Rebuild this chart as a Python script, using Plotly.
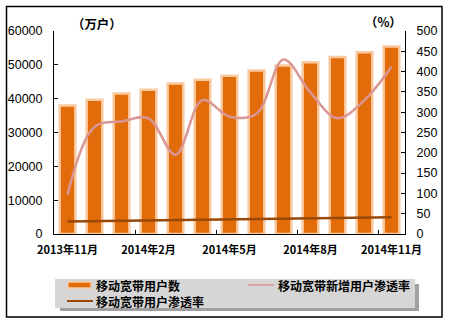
import plotly.graph_objects as go

months = ["2013年11月", "2013年12月", "2014年1月", "2014年2月", "2014年3月", "2014年4月",
          "2014年5月", "2014年6月", "2014年7月", "2014年8月", "2014年9月", "2014年10月", "2014年11月"]
users = [38000, 39700, 41500, 42600, 44500, 45600, 46800, 48300, 49800, 50800, 52300, 53700, 55400]
new_rate = [97, 264, 277, 285, 195, 330, 289, 296, 430, 348, 285, 330, 412]
pen_rate = [30.5, 31.4, 32.3, 33.2, 34.0, 34.8, 35.6, 36.6, 37.5, 38.4, 39.3, 40.2, 41.2]
tick_labels = ["2013年11月", "2014年2月", "2014年5月", "2014年8月", "2014年11月"]
tick_vals = [months[0], months[3], months[6], months[9], months[12]]
series_names = ["移动宽带用户数", "移动宽带新增用户渗透率", "移动宽带用户渗透率"]

CJK = "Noto Sans CJK SC"
NUM = "Liberation Sans"
BAR_FILL = "#E36C0A"
BAR_EDGE = "#F9C9A0"
PINK = "#DA9694"
BROWN = "#984807"

# plot area in pixels: x 54..405, y 31..234
PL, PW, PB, PH = 54, 351, 234, 203
def px(x):
    return (x - PL) / PW
def py(y):
    return (PB - y) / PH

fig = go.Figure()
fig.add_trace(go.Bar(
    x=months, y=users, name=series_names[0],
    marker=dict(color=BAR_FILL, line=dict(color=BAR_EDGE, width=2.5)),
    width=0.58, yaxis="y",
))
fig.add_trace(go.Scatter(
    x=months, y=new_rate, name=series_names[1], mode="lines",
    line=dict(color=PINK, width=2.5, shape="spline", smoothing=1.0), yaxis="y2",
))
fig.add_trace(go.Scatter(
    x=months, y=pen_rate, name=series_names[2], mode="lines",
    line=dict(color=BROWN, width=2.5), yaxis="y2",
))

bold12 = dict(family=CJK, size=12.4, color="black", weight="bold")
leg12 = dict(family=CJK, size=12, color="black", weight="bold")

fig.update_layout(
    width=449, height=324,
    margin=dict(l=54, r=44, t=31, b=90, autoexpand=False),
    paper_bgcolor="white", plot_bgcolor="white",
    showlegend=False,
    xaxis=dict(
        type="category", categoryorder="array", categoryarray=months,
        tickmode="array", tickvals=tick_vals, ticktext=tick_labels, tickangle=0,
        tickson="boundaries", ticks="inside", ticklen=4, tickcolor="black",
        showline=True, linecolor="black", linewidth=1, showgrid=False,
        automargin=False, ticklabelstandoff=6,
        tickfont=dict(family=CJK, size=11, color="black", weight="bold"),
    ),
    yaxis=dict(
        range=[0, 60000], dtick=10000, tickformat="d",
        ticks="inside", ticklen=4, tickcolor="black", automargin=False,
        showline=True, linecolor="black", linewidth=1, showgrid=False, zeroline=False,
        ticklabelstandoff=8,
        tickfont=dict(family=NUM, size=12.5, color="black"),
    ),
    yaxis2=dict(
        range=[0, 500], dtick=50, overlaying="y", side="right", automargin=False,
        ticks="inside", ticklen=4, tickcolor="black",
        showline=True, linecolor="black", linewidth=1, showgrid=False, zeroline=False,
        ticklabelstandoff=8,
        tickfont=dict(family=NUM, size=12.5, color="black"),
    ),
    annotations=[
        dict(text="（万户）", xref="paper", yref="paper", x=px(70), y=py(24),
             xanchor="left", yanchor="middle", showarrow=False, font=bold12),
        dict(text="（%）", xref="paper", yref="paper", x=px(404), y=py(22),
             xanchor="right", yanchor="middle", showarrow=False, font=bold12),
        dict(text=series_names[0], xref="paper", yref="paper", x=px(94), y=py(285),
             xanchor="left", yanchor="middle", showarrow=False, font=leg12),
        dict(text=series_names[1], xref="paper", yref="paper", x=px(276), y=py(285),
             xanchor="left", yanchor="middle", showarrow=False, font=leg12),
        dict(text=series_names[2], xref="paper", yref="paper", x=px(94), y=py(301),
             xanchor="left", yanchor="middle", showarrow=False, font=leg12),
    ],
    shapes=[
        # outer frame
        dict(type="rect", xref="paper", yref="paper",
             x0=px(6.5), x1=px(442), y0=py(317), y1=py(6.5),
             line=dict(color="black", width=1.5), fillcolor="rgba(0,0,0,0)", layer="below"),
        # legend shadow
        dict(type="rect", xref="paper", yref="paper",
             x0=px(60), x1=px(419), y0=py(311), y1=py(284),
             line=dict(width=0), fillcolor="#A0A0A0", layer="below"),
        # legend box
        dict(type="rect", xref="paper", yref="paper",
             x0=px(55), x1=px(415), y0=py(308), y1=py(279),
             line=dict(width=0), fillcolor="#D6D6D6", layer="below"),
        # legend keys
        dict(type="rect", xref="paper", yref="paper",
             x0=px(68), x1=px(91), y0=py(288), y1=py(282),
             line=dict(color=BAR_EDGE, width=1.5), fillcolor=BAR_FILL),
        dict(type="line", xref="paper", yref="paper",
             x0=px(248), x1=px(274), y0=py(285), y1=py(285),
             line=dict(color=PINK, width=1.5)),
        dict(type="line", xref="paper", yref="paper",
             x0=px(67), x1=px(93), y0=py(301), y1=py(301),
             line=dict(color=BROWN, width=2)),
    ],
)

fig.write_html("out.html")
